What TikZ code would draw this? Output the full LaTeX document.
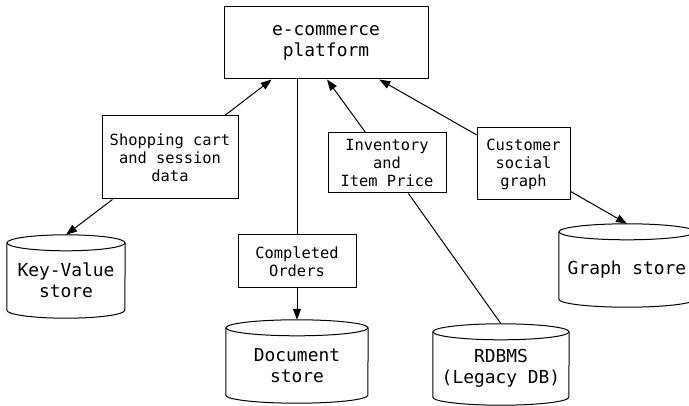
\documentclass[tikz,border=0pt]{standalone}
\usepackage{fontspec}
\setmonofont{DejaVu Sans Mono}
\usetikzlibrary{arrows.meta,calc}
\tikzset{
  box/.style={draw, line width=1pt, inner sep=0pt, align=center, font=\ttfamily\fontsize{15.4}{18}\selectfont},
  bigbox/.style={box, font=\ttfamily\fontsize{17.9}{21}\selectfont},
  dbbody/.style={inner sep=0pt, align=center, font=\ttfamily\fontsize{17.9}{21}\selectfont},
  link/.style={line width=1pt},
  arr/.style={link, -{Triangle[length=11pt,width=8pt]}},
}
\newcommand\dbcyl[3]{% name, half width, ry
  \draw[line width=1pt] (#1.north west) -- ($(#1.south west)+(0pt,#3)$)
    arc[start angle=180,end angle=360,x radius=#2,y radius=#3] -- (#1.north east);
  \draw[line width=1pt] (#1.north) ellipse[x radius=#2, y radius=#3];
}
\begin{document}
\begin{tikzpicture}[x=1pt,y=-1pt]
\useasboundingbox (0,0) rectangle (689,406);
\clip (0,0) rectangle (689,406);
\node[bigbox, minimum width=204pt, minimum height=72pt] (plat) at (326,43) {e-commerce\\platform};
\node[box, minimum width=136pt, minimum height=83pt] (shop) at (170,157.5) {Shopping cart\\and session\\data};
\node[box, minimum width=118pt, minimum height=53pt] (comp) at (297,261.5) {Completed\\Orders};
\node[box, minimum width=118pt, minimum height=60pt] (inv) at (387,163) {Inventory\\and\\Item Price};
\node[box, minimum width=93pt, minimum height=72pt] (cust) at (523.5,164) {Customer\\social\\graph};

\node[dbbody, minimum width=118pt, minimum height=75pt] (kv) at (66,280.5) {Key-Value\\store};
\node[dbbody, minimum width=142pt, minimum height=75pt] (doc) at (297,365.5) {Document\\store};
\node[dbbody, minimum width=136pt, minimum height=73pt] (rdb) at (501,368.5) {RDBMS\\(Legacy DB)};
\node[dbbody, minimum width=136pt, minimum height=75pt] (graph) at (627,269.5) {Graph store};
\dbcyl{kv}{59pt}{8pt}
\dbcyl{doc}{71pt}{8pt}
\dbcyl{rdb}{68pt}{8pt}
\dbcyl{graph}{68pt}{8pt}

\draw[arr] ($(shop.north west)!0.9!(shop.north east)$) -- ($(plat.south west)!0.235!(plat.south east)$);
\draw[arr] ($(shop.south west)!0.08!(shop.south east)$) -- ($(kv.north)+(0pt,8pt)$);
\draw[link] (plat.south -| comp.north) -- (comp.north);
\draw[arr] (comp.south) -- ($(doc.north)+(0pt,8pt)$);
\draw[arr] ($(inv.north west)!0.32!(inv.north east)$) -- ($(plat.south west)!0.505!(plat.south east)$);
\draw[link] ($(inv.south west)!0.68!(inv.south east)$) -- ($(rdb.north)+(0pt,8pt)$);
\draw[arr] ($(cust.north west)!0.1!(cust.south west)$) -- ($(plat.south west)!0.76!(plat.south east)$);
\draw[arr] ($(cust.north east)!0.875!(cust.south east)$) -- ($(graph.north)+(0pt,8pt)$);
\end{tikzpicture}
\end{document}
